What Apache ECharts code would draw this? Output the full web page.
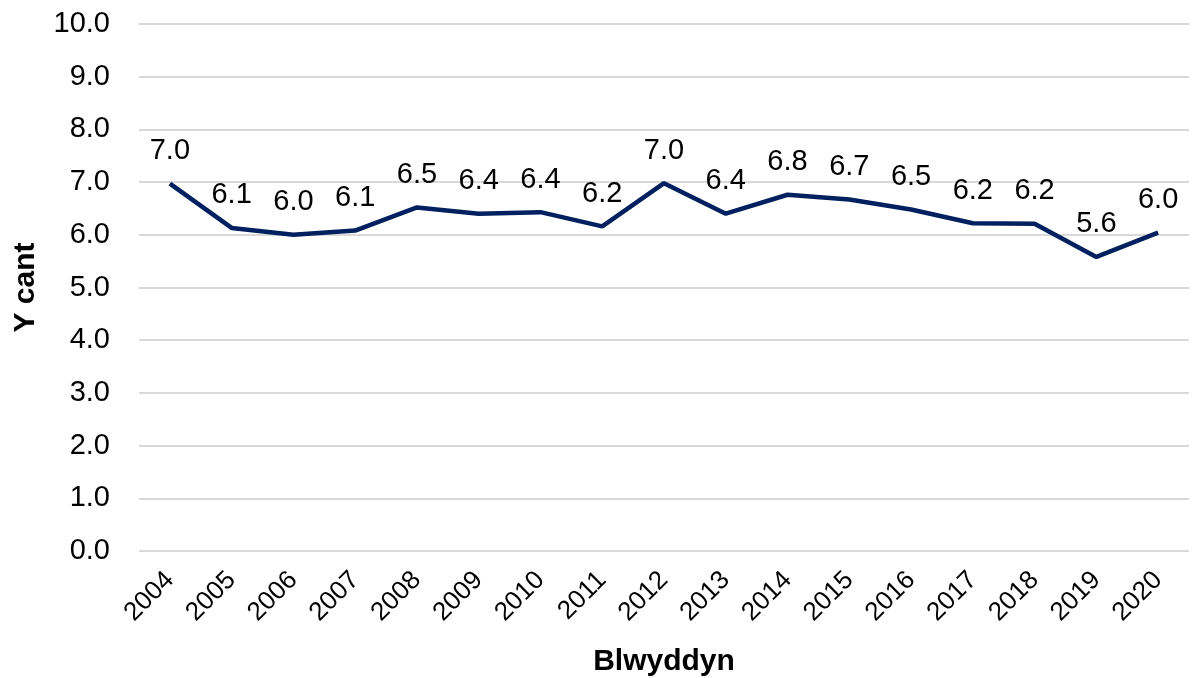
<!DOCTYPE html>
<html>
<head>
<meta charset="UTF-8">
<title>Y cant</title>
<script type="text/javascript" src="https://cdn.jsdelivr.net/npm/echarts@6/dist/echarts.min.js"></script>
</head>
<body style="margin:0">
<div id="main" style="width:1192px;height:678px"></div>
<script type="text/javascript">
var years = ['2004','2005','2006','2007','2008','2009','2010','2011','2012','2013','2014','2015','2016','2017','2018','2019','2020'];
var values = [6.97, 6.13, 6.0, 6.08, 6.52, 6.4, 6.43, 6.16, 6.98, 6.4, 6.76, 6.67, 6.48, 6.22, 6.21, 5.58, 6.04];

var myChart = echarts.init(document.getElementById('main'));
var font = 'Liberation Sans, Arial, sans-serif';

var option = {
    backgroundColor: '#ffffff',
    animation: false,
    grid: { left: 139, right: 3, top: 24, bottom: 127, containLabel: false, outerBoundsMode: 'none' },
    xAxis: {
        type: 'category',
        data: years,
        boundaryGap: true,
        name: 'Blwyddyn',
        nameLocation: 'middle',
        nameGap: 96,
        nameTextStyle: { fontFamily: font, fontSize: 30, fontWeight: 'bold', color: '#000' },
        axisLine: { show: false },
        axisTick: { show: false },
        axisLabel: { rotate: 45, margin: 25, fontFamily: font, fontSize: 26, color: '#000', interval: 0 }
    },
    yAxis: {
        type: 'value',
        min: 0,
        max: 10,
        interval: 1,
        name: 'Y cant',
        nameLocation: 'middle',
        nameGap: 98,
        nameTextStyle: { fontFamily: font, fontSize: 30, fontWeight: 'bold', color: '#000' },
        axisLine: { show: false },
        axisTick: { show: false },
        axisLabel: {
            margin: 29, fontFamily: font, fontSize: 29, color: '#000',
            formatter: function (v) { return v.toFixed(1); }
        },
        splitLine: { lineStyle: { color: '#d9d9d9', width: 2 } }
    },
    series: [{
        type: 'line',
        data: values,
        symbol: 'circle',
        symbolSize: 0,
        showSymbol: true,
        itemStyle: { color: '#002060' },
        lineStyle: { color: '#002060', width: 4.5 },
        label: {
            show: true,
            position: 'top',
            distance: 18,
            fontFamily: font,
            fontSize: 29,
            color: '#000',
            formatter: function (p) { return p.value.toFixed(1); }
        }
    }]
};
myChart.setOption(option);
</script>
</body>
</html>
